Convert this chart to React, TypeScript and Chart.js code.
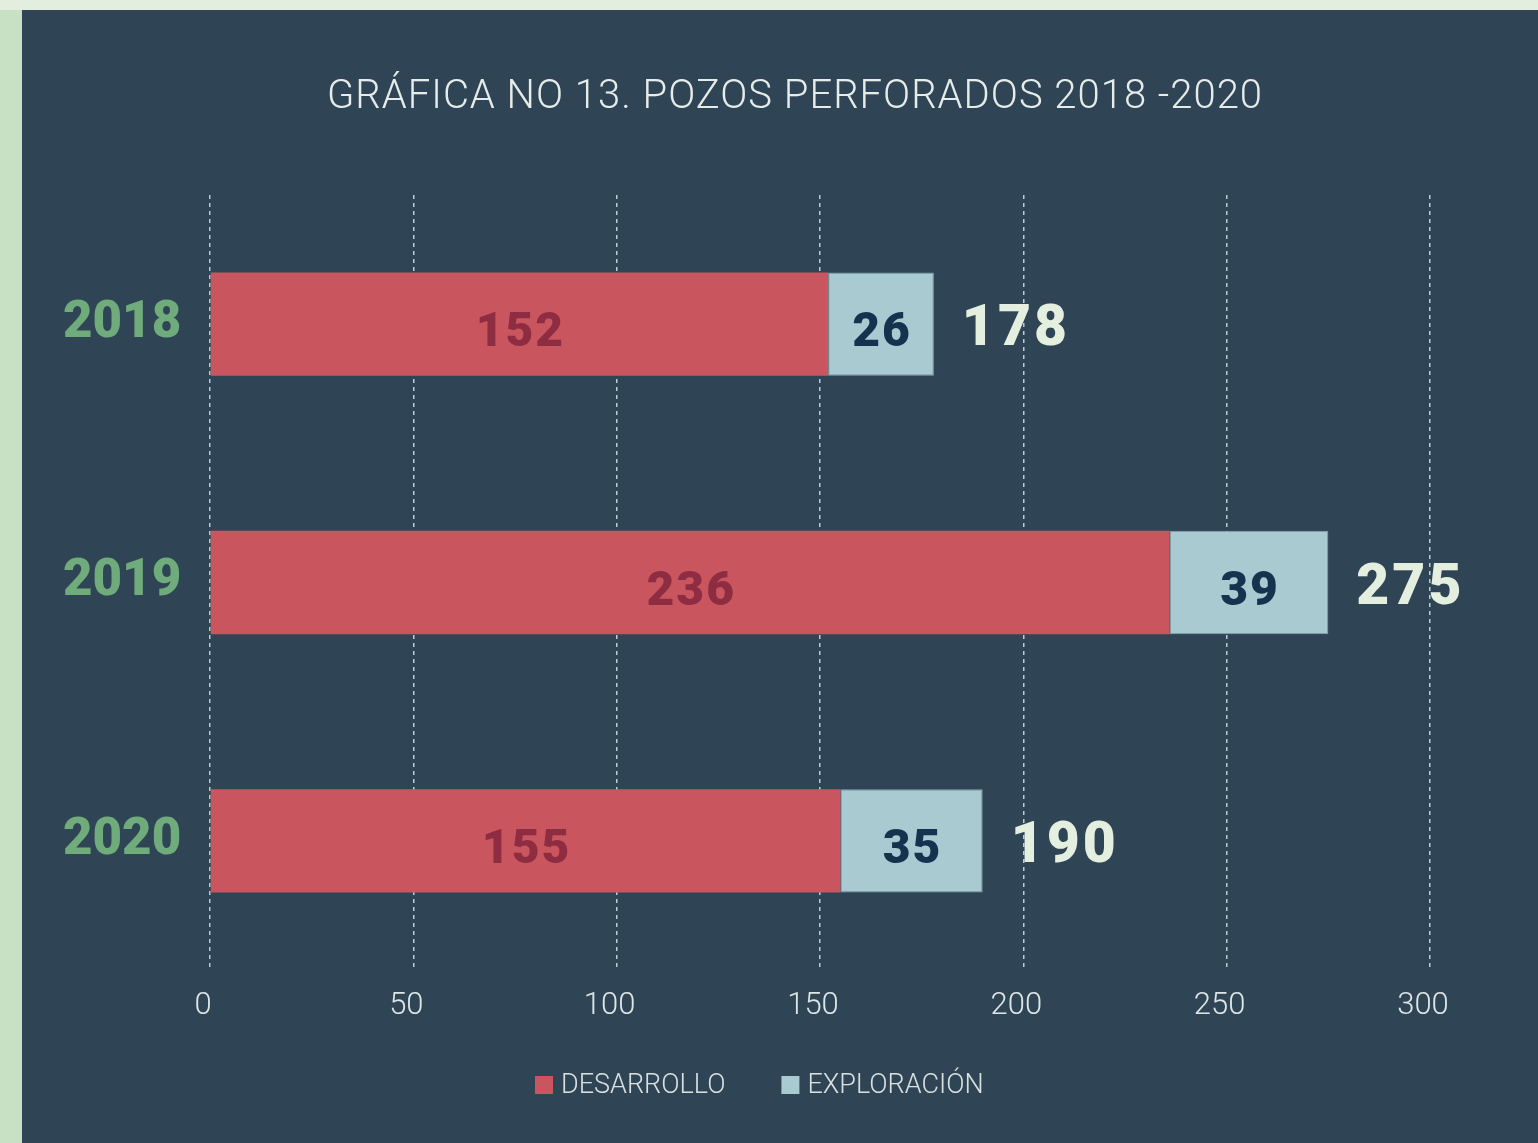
import React, { useEffect, useRef } from "react";
import { Chart, registerables } from "chart.js";

Chart.register(...registerables);

const years = ["2018", "2019", "2020"];
const desarrollo = [152, 236, 155];
const exploracion = [26, 39, 35];
const xTicks = [0, 50, 100, 150, 200, 250, 300];
const seriesNames = ["DESARROLLO", "EXPLORACIÓN"];
const titleText = "GRÁFICA NO 13. POZOS PERFORADOS 2018 -2020";

const W = 1538;
const H = 1143;
const PANEL = "#2F4555";
const RED = "#C9565F";
const BLUE = "#A8CAD0";
const RED_TXT = "#8E2D42";
const BLUE_TXT = "#15334F";
const TOTAL_TXT = "#E4EFE0";
const GREEN = "#6FAB7B";
const HEAVY = "Roboto, 'DejaVu Sans', sans-serif";
const LIGHT = "Roboto, 'DejaVu Sans', sans-serif";

export default function App() {
  const ref = useRef<HTMLCanvasElement | null>(null);

  useEffect(() => {
    if (!ref.current) return;
    const bgPlugin = {
      id: "bg",
      beforeDraw(chart: any) {
        const c = chart.ctx;
        c.save();
        c.fillStyle = "#C8E0C4";
        c.fillRect(0, 0, W, H);
        c.fillStyle = "#E3EEDF";
        c.fillRect(0, 0, W, 10);
        c.fillStyle = PANEL;
        c.fillRect(22, 10, W - 22, H - 10);
        c.restore();
      },
    };
    const labelsPlugin = {
      id: "labels",
      afterDatasetsDraw(chart: any) {
        const c = chart.ctx;
        c.save();
        c.textBaseline = "middle";
        const colors = [RED_TXT, BLUE_TXT];
        chart.data.datasets.forEach((ds: any, di: number) => {
          const meta = chart.getDatasetMeta(di);
          meta.data.forEach((bar: any, i: number) => {
            const left = Math.min(bar.base, bar.x);
            const right = Math.max(bar.base, bar.x);
            c.font = `900 48px ${HEAVY}`;
            (c as any).letterSpacing = "2px";
            c.fillStyle = colors[di];
            c.textAlign = "center";
            c.fillText(String(ds.data[i]), (left + right) / 2 + 1, bar.y + 10);
          });
        });
        const last = chart.getDatasetMeta(chart.data.datasets.length - 1);
        last.data.forEach((bar: any, i: number) => {
          const total = desarrollo[i] + exploracion[i];
          c.font = `900 57px ${HEAVY}`;
          (c as any).letterSpacing = "3px";
          c.fillStyle = TOTAL_TXT;
          c.textAlign = "left";
          c.fillText(String(total), Math.max(bar.x, bar.base) + 28, bar.y + 7);
        });
        (c as any).letterSpacing = "0px";
        c.restore();
      },
      afterDraw(chart: any) {
        const c = chart.ctx;
        c.save();
        c.fillStyle = "#E6ECEA";
        c.font = `300 40px ${LIGHT}`;
        (c as any).letterSpacing = "1px";
        c.textAlign = "center";
        c.textBaseline = "middle";
        c.fillText(titleText, 795, 98);
        // legend
        c.font = `300 27px ${LIGHT}`;
        (c as any).letterSpacing = "0px";
        c.textAlign = "left";
        const cols = [RED, BLUE];
        const box = 18;
        const gap = 8;
        const itemGap = 56;
        let x = 535;
        const y = 1085;
        seriesNames.forEach((n, i) => {
          c.fillStyle = cols[i];
          c.fillRect(x, y - box / 2, box, box);
          c.fillStyle = "#D8E0E0";
          c.fillText(n, x + box + gap, y + 1);
          x += box + gap + c.measureText(n).width + itemGap;
        });
        c.restore();
      },
    };

    const chart = new Chart(ref.current, {
      type: "bar",
      data: {
        labels: years,
        datasets: [
          {
            label: seriesNames[0],
            data: desarrollo,
            backgroundColor: RED,
            borderWidth: 0,
            categoryPercentage: 0.8,
            barPercentage: 0.5,
          },
          {
            label: seriesNames[1],
            data: exploracion,
            backgroundColor: BLUE,
            borderColor: "#86A7AE",
            borderWidth: 1,
            borderSkipped: false,
            categoryPercentage: 0.8,
            barPercentage: 0.5,
          },
        ],
      },
      options: {
        indexAxis: "y",
        responsive: false,
        animation: false,
        devicePixelRatio: 1,
        layout: { padding: { top: 195, left: 63, right: 108, bottom: 113 } },
        plugins: {
          legend: { display: false },
          title: { display: false },
          tooltip: { enabled: false },
        },
        scales: {
          x: {
            stacked: true,
            min: 0,
            max: 300,
            afterBuildTicks(scale: any) {
              scale.ticks = xTicks.map((v) => ({ value: v }));
            },
            afterFit(scale: any) {
              scale.height = 60;
            },
            border: { display: false, dash: [4, 4] },
            grid: {
              color: "#B5CFD4",
              lineWidth: 1.5,
              drawTicks: false,
            },
            ticks: {
              color: "#DDE6E6",
              padding: 18,
              labelOffset: -7,
              font: { family: LIGHT, size: 31, weight: 300 as any },
            },
          } as any,
          y: {
            stacked: true,
            afterFit(scale: any) {
              scale.width = 147;
            },
            border: { display: false },
            grid: { display: false, drawTicks: false },
            ticks: {
              crossAlign: "far",
              color: GREEN,
              padding: 0,
              font: { family: HEAVY, size: 51, weight: 900 as any },
            },
          } as any,
        },
      },
      plugins: [bgPlugin, labelsPlugin],
    });
    return () => chart.destroy();
  }, []);

  return (
    <div style={{ position: "fixed", left: 0, top: 0, width: W, height: H }}>
      <canvas ref={ref} width={W} height={H} style={{ display: "block" }} />
    </div>
  );
}
